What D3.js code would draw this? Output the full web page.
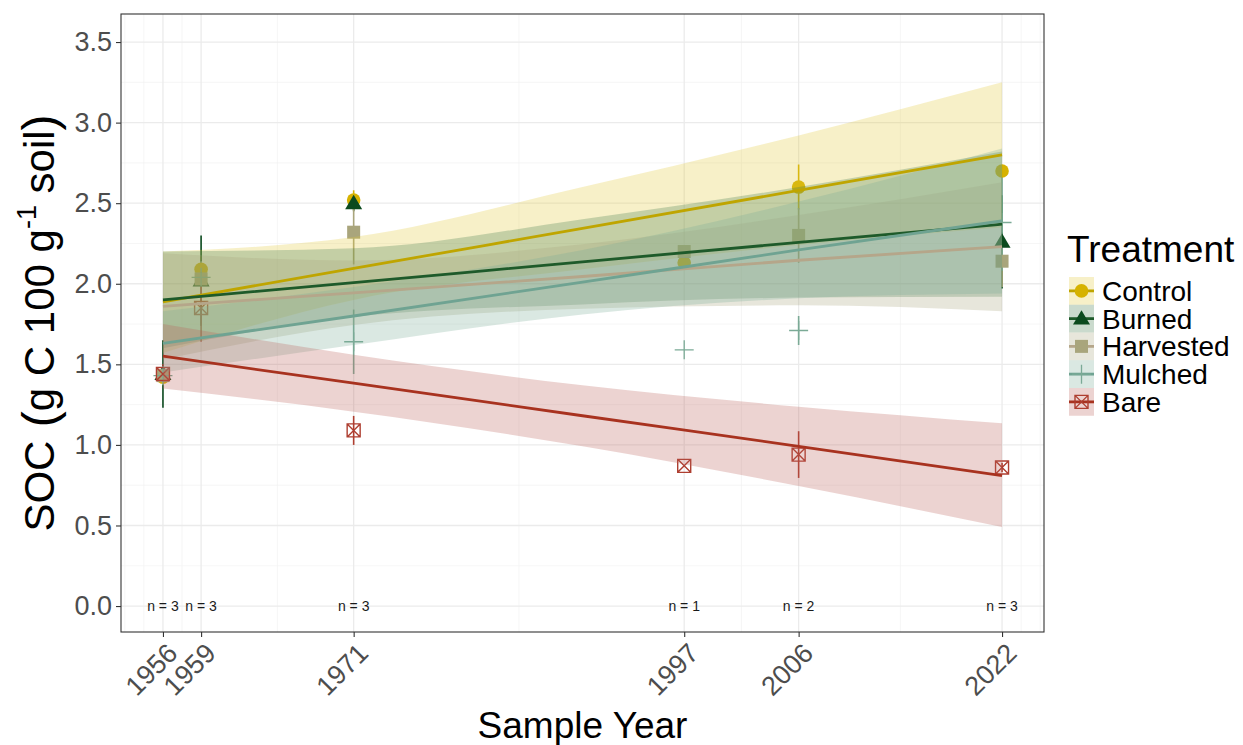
<!DOCTYPE html>
<html>
<head>
<meta charset="utf-8">
<script src="https://cdn.jsdelivr.net/npm/d3@7"></script>
<style>
  html, body { margin: 0; padding: 0; background: #fff; }
  svg { display: block; font-family: "Liberation Sans", Arial, sans-serif; }
</style>
</head>
<body>
<svg id="chart" width="1243" height="745"></svg>
<script>
// ---------- data ----------
const years = [1956, 1959, 1971, 1997, 2006, 2022];
const nLabels = ["n = 3", "n = 3", "n = 3", "n = 1", "n = 2", "n = 3"];
const yTicks = [0, 0.5, 1.0, 1.5, 2.0, 2.5, 3.0, 3.5];
const treatments = ["Control", "Burned", "Harvested", "Mulched", "Bare"];

const controlMean   = [1.42, 2.09, 2.52, 2.13, 2.60, 2.70];
const controlSE     = [0.05, 0.08, 0.06, 0,    0.14, 0];
const burnedMean    = [1.44, 2.02, 2.50, null, null, 2.26];
const burnedSE      = [0.21, 0.28, 0.05, 0,    0,    0.29];
const harvestedMean = [1.43, 2.03, 2.32, 2.20, 2.30, 2.14];
const harvestedSE   = [0.05, 0.10, 0.20, 0,    0.17, 0.16];
const mulchedMean   = [1.43, 2.04, 1.64, 1.59, 1.71, 2.38];
const mulchedSE     = [0.06, 0.10, 0.20, 0,    0.09, 0.30];
const bareMean      = [1.44, 1.85, 1.09, 0.87, 0.94, 0.86];
const bareSE        = [0.06, 0.21, 0.09, 0,    0.145, 0.03];

// fitted trend and confidence band read at these years
const fitYears = [1956, 1971, 1989, 2006, 2022];
const controlFit   = [1.888, 2.095, 2.344, 2.579, 2.80];
const controlLo    = [1.57, 1.90, 2.09, 2.24, 2.35];
const controlHi    = [2.20, 2.29, 2.60, 2.92, 3.25];
const burnedFit    = [1.90, 2.007, 2.136, 2.257, 2.37];
const burnedLo     = [1.60, 1.794, 1.872, 1.914, 1.92];
const burnedHi     = [2.20, 2.22, 2.40, 2.60, 2.82];
const harvestedFit = [1.86, 1.944, 2.045, 2.146, 2.23];
const harvestedLo  = [1.53, 1.744, 1.845, 1.866, 1.83];
const harvestedHi  = [2.19, 2.144, 2.245, 2.426, 2.63];
const mulchedFit   = [1.63, 1.80, 2.01, 2.21, 2.39];
const mulchedLo    = [1.45, 1.62, 1.81, 1.91, 1.94];
const mulchedHi    = [1.83, 1.98, 2.21, 2.51, 2.84];
const bareFit      = [1.551, 1.383, 1.181, 0.991, 0.81];
const bareLo       = [1.35, 1.206, 0.992, 0.745, 0.49];
const bareHi       = [1.75, 1.56, 1.37, 1.237, 1.134];

const colors = {
  Control:   {pt: "#D6B200", line: "#BFA500", fill: "#E3C83A"},
  Burned:    {pt: "#0B4A1E", line: "#1E5A2A", fill: "#3F7A4A"},
  Harvested: {pt: "#A9A57C", line: "#B5A68A", fill: "#A9A57C"},
  Mulched:   {pt: "#7BAA96", line: "#6FA392", fill: "#7BAE98"},
  Bare:      {pt: "#AE3E30", line: "#A8321F", fill: "#B9625A"}
};
const shapes = {Control: "circle", Burned: "triangle", Harvested: "square", Mulched: "plus", Bare: "squarecross"};

const series = [
  {name: "Control",   mean: controlMean,   se: controlSE,   fit: controlFit,   lo: controlLo,   hi: controlHi},
  {name: "Burned",    mean: burnedMean,    se: burnedSE,    fit: burnedFit,    lo: burnedLo,    hi: burnedHi},
  {name: "Harvested", mean: harvestedMean, se: harvestedSE, fit: harvestedFit, lo: harvestedLo, hi: harvestedHi},
  {name: "Mulched",   mean: mulchedMean,   se: mulchedSE,   fit: mulchedFit,   lo: mulchedLo,   hi: mulchedHi},
  {name: "Bare",      mean: bareMean,      se: bareSE,      fit: bareFit,      lo: bareLo,      hi: bareHi}
];

// ---------- layout ----------
const svg = d3.select("#chart");
const P = {left: 121, right: 1044, top: 14, bottom: 632};
const x = d3.scaleLinear().domain([1952.7, 2025.3]).range([P.left, P.right]);
const y = d3.scaleLinear().domain([-0.161, 3.674]).range([P.bottom, P.top]);

const g = svg.append("g");

g.append("rect").attr("x", P.left).attr("y", P.top)
  .attr("width", P.right - P.left).attr("height", P.bottom - P.top).attr("fill", "#fff");

// minor grid
const xMinor = [1953, 1954.5, 1957.5, 1965, 1984, 2001.5, 2014, 2023.5, 2025];
const yMinor = [0.25, 0.75, 1.25, 1.75, 2.25, 2.75, 3.25];
g.selectAll(".xminor").data(xMinor).join("line")
  .attr("x1", d => x(d)).attr("x2", d => x(d)).attr("y1", P.top).attr("y2", P.bottom)
  .attr("stroke", "#F2F2F2").attr("stroke-width", 0.7);
g.selectAll(".yminor").data(yMinor).join("line")
  .attr("y1", d => y(d)).attr("y2", d => y(d)).attr("x1", P.left).attr("x2", P.right)
  .attr("stroke", "#F2F2F2").attr("stroke-width", 0.7);
// major grid
g.selectAll(".xmajor").data(years).join("line")
  .attr("x1", d => x(d)).attr("x2", d => x(d)).attr("y1", P.top).attr("y2", P.bottom)
  .attr("stroke", "#EBEBEB").attr("stroke-width", 1.3);
g.selectAll(".ymajor").data(yTicks).join("line")
  .attr("y1", d => y(d)).attr("y2", d => y(d)).attr("x1", P.left).attr("x2", P.right)
  .attr("stroke", "#EBEBEB").attr("stroke-width", 1.3);

// ---------- symbols ----------
function drawShape(sel, shape, cx, cy, col) {
  if (shape === "circle") {
    sel.append("circle").attr("cx", cx).attr("cy", cy).attr("r", 6.8).attr("fill", col);
  } else if (shape === "triangle") {
    const s = 8.5;
    sel.append("path").attr("d", `M${cx},${cy - s}L${cx + s},${cy + s * 0.7}L${cx - s},${cy + s * 0.7}Z`).attr("fill", col);
  } else if (shape === "square") {
    sel.append("rect").attr("x", cx - 6.5).attr("y", cy - 6.5).attr("width", 13).attr("height", 13).attr("fill", col);
  } else if (shape === "plus") {
    sel.append("path").attr("d", `M${cx - 9.5},${cy}H${cx + 9.5}M${cx},${cy - 9.5}V${cy + 9.5}`)
      .attr("stroke", col).attr("stroke-width", 1.3).attr("fill", "none");
  } else if (shape === "squarecross") {
    const s = 6.5;
    sel.append("path").attr("d", `M${cx - s},${cy - s}H${cx + s}V${cy + s}H${cx - s}ZM${cx - s},${cy - s}L${cx + s},${cy + s}M${cx + s},${cy - s}L${cx - s},${cy + s}`)
      .attr("stroke", col).attr("stroke-width", 1.4).attr("fill", "none");
  }
}

// error bars and points
const pts = g.append("g");
series.forEach(s => {
  const col = colors[s.name].pt;
  years.forEach((yr, i) => {
    const m = s.mean[i];
    if (m === null) return;
    if (s.se[i] > 0) {
      pts.append("line").attr("x1", x(yr)).attr("x2", x(yr))
        .attr("y1", y(m - s.se[i])).attr("y2", y(m + s.se[i]))
        .attr("stroke", col).attr("stroke-width", 1.6);
    }
  });
});
series.forEach(s => {
  const col = colors[s.name].pt;
  years.forEach((yr, i) => {
    const m = s.mean[i];
    if (m === null) return;
    drawShape(pts, shapes[s.name], x(yr), y(m), col);
  });
});

// bands and fitted lines
const area = d3.area().x((d, i) => x(fitYears[i])).y0(d => y(d[0])).y1(d => y(d[1])).curve(d3.curveMonotoneX);
const line = d3.line().x((d, i) => x(fitYears[i])).y(d => y(d)).curve(d3.curveMonotoneX);
series.forEach(s => {
  g.append("path").datum(s.lo.map((v, i) => [v, s.hi[i]]))
    .attr("d", area).attr("fill", colors[s.name].fill).attr("fill-opacity", 0.28);
});
series.forEach(s => {
  g.append("path").datum(s.fit).attr("d", line)
    .attr("fill", "none").attr("stroke", colors[s.name].line).attr("stroke-width", 2.8);
});

// n labels
g.selectAll(".nlab").data(years).join("text")
  .attr("x", d => x(d)).attr("y", y(0)).attr("dy", "0.35em")
  .attr("text-anchor", "middle").attr("font-size", 14).attr("fill", "#1a1a1a")
  .text((d, i) => nLabels[i]);

// panel border
g.append("rect").attr("x", P.left).attr("y", P.top)
  .attr("width", P.right - P.left).attr("height", P.bottom - P.top)
  .attr("fill", "none").attr("stroke", "#333333").attr("stroke-width", 1.1);

// axes
const xAxis = d3.axisBottom(x).tickValues(years).tickFormat(d3.format("d")).tickSize(5).tickPadding(4);
const xg = svg.append("g").attr("transform", `translate(0,${P.bottom})`).call(xAxis);
xg.select(".domain").remove();
xg.selectAll(".tick line").attr("stroke", "#333333").attr("stroke-width", 1.1);
xg.selectAll(".tick text")
  .attr("font-size", 27).attr("fill", "#4D4D4D")
  .attr("font-family", "Liberation Sans, Arial, sans-serif")
  .attr("text-anchor", "end")
  .attr("transform", "translate(2,9) rotate(-45)")
  .attr("dy", "0.72em").attr("y", 0).attr("x", 0);

const yAxis = d3.axisLeft(y).tickValues(yTicks).tickFormat(d3.format(".1f")).tickSize(5).tickPadding(4);
const yg = svg.append("g").attr("transform", `translate(${P.left},0)`).call(yAxis);
yg.select(".domain").remove();
yg.selectAll(".tick line").attr("stroke", "#333333").attr("stroke-width", 1.1);
yg.selectAll(".tick text").attr("font-size", 27).attr("fill", "#4D4D4D")
  .attr("font-family", "Liberation Sans, Arial, sans-serif");

// axis titles
svg.append("text").attr("x", (P.left + P.right) / 2).attr("y", 738)
  .attr("text-anchor", "middle").attr("font-size", 37).attr("fill", "#000").text("Sample Year");

const yt = svg.append("text").attr("transform", `translate(54,${(P.top + P.bottom) / 2}) rotate(-90)`)
  .attr("text-anchor", "middle").attr("font-size", 42).attr("fill", "#000");
yt.append("tspan").text("SOC");
yt.append("tspan").attr("font-size", 48).attr("dy", 2).text(" (");
yt.append("tspan").attr("dy", -2).text("g C 100 g");
yt.append("tspan").attr("font-size", 27).attr("dy", -18).text("-1");
yt.append("tspan").attr("dy", 18).text(" soil");
yt.append("tspan").attr("font-size", 48).attr("dy", 2).text(")");

// legend
const L = {x: 1069, titleY: 262, top: 277, row: 27.75, key: 25};
svg.append("text").attr("x", L.x - 2).attr("y", L.titleY).attr("font-size", 37).attr("fill", "#000").text("Treatment");
treatments.forEach((t, i) => {
  const ky = L.top + i * L.row;
  const lg = svg.append("g");
  lg.append("rect").attr("x", L.x).attr("y", ky).attr("width", L.key).attr("height", L.row)
    .attr("fill", colors[t].fill).attr("fill-opacity", 0.28);
  lg.append("line").attr("x1", L.x).attr("x2", L.x + L.key).attr("y1", ky + L.row / 2).attr("y2", ky + L.row / 2)
    .attr("stroke", colors[t].line).attr("stroke-width", 2.8);
  drawShape(lg, shapes[t], L.x + L.key / 2, ky + L.row / 2, colors[t].pt);
  lg.append("text").attr("x", L.x + 33).attr("y", ky + L.row / 2).attr("dy", "0.36em")
    .attr("font-size", 28).attr("fill", "#000").text(t);
});
</script>
</body>
</html>
